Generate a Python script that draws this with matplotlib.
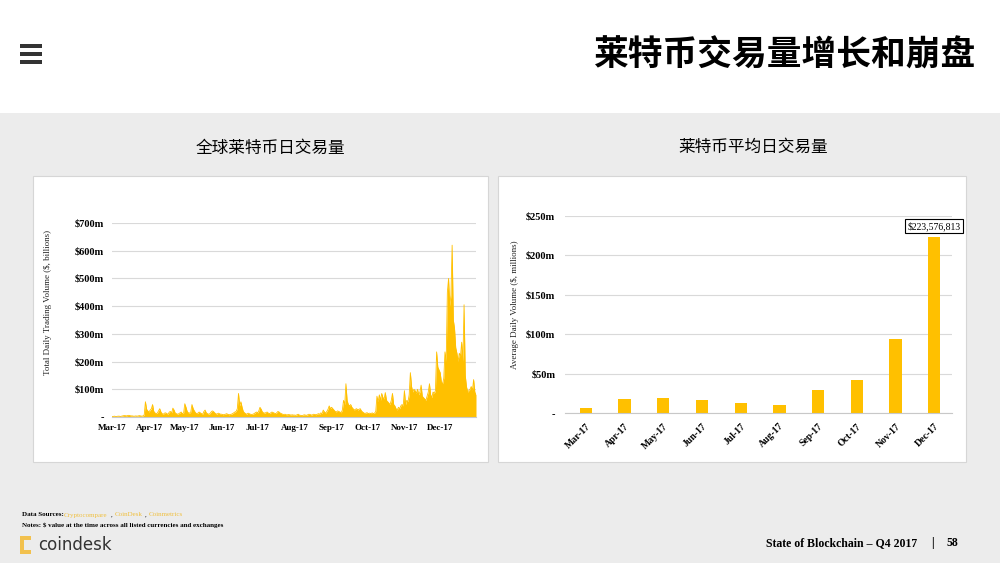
import matplotlib
matplotlib.use('Agg')
import matplotlib.pyplot as plt
import numpy as np
from matplotlib.patches import Rectangle

# ---------------- data ----------------
months = ['Mar-17', 'Apr-17', 'May-17', 'Jun-17', 'Jul-17',
          'Aug-17', 'Sep-17', 'Oct-17', 'Nov-17', 'Dec-17']
days_in_month = [31, 30, 31, 30, 31, 31, 30, 31, 30, 31]

# daily total trading volume, $ millions
mar = [2, 2, 3, 2, 2, 3, 3, 2, 3, 4, 5, 5, 4, 5, 6, 5, 4, 4, 3, 3, 4, 3, 4, 5, 4, 3, 4, 8, 55, 28, 22]
apr = [18, 25, 30, 45, 20, 15, 12, 14, 22, 30, 18, 12, 10, 14, 15, 12, 10, 18, 20, 15,
       32, 25, 14, 12, 10, 12, 15, 18, 12, 14]
may = [48, 35, 20, 15, 14, 18, 45, 30, 22, 15, 12, 14, 18, 15, 12, 10, 20, 25, 15, 12,
       10, 12, 18, 22, 20, 15, 12, 10, 14, 12, 10]
jun = [10, 8, 9, 10, 12, 10, 8, 9, 10, 12, 15, 18, 20, 30, 85, 40, 55, 35, 20, 15,
       12, 10, 14, 12, 10, 9, 10, 12, 15, 18]
jul = [15, 22, 35, 28, 18, 15, 14, 16, 18, 14, 12, 15, 18, 16, 14, 12, 15, 20, 18, 14,
       12, 10, 9, 10, 8, 8, 9, 8, 7, 8, 7]
aug = [7, 6, 8, 10, 7, 6, 5, 6, 8, 7, 6, 8, 10, 9, 7, 8, 10, 9, 8, 10,
       12, 10, 15, 12, 25, 18, 14, 20, 28, 40, 30]
sep = [35, 30, 25, 20, 18, 22, 20, 18, 15, 25, 60, 45, 120, 60, 45, 40, 45, 35, 30, 25,
       28, 30, 25, 28, 30, 22, 18, 15, 12, 15]
oct_ = [15, 12, 14, 12, 15, 12, 14, 20, 75, 55, 80, 60, 85, 70, 65, 88, 60, 55, 50, 45,
        60, 85, 45, 40, 30, 25, 35, 30, 40, 45, 40]
nov = [95, 45, 60, 55, 80, 160, 110, 90, 100, 95, 85, 100, 80, 90, 115, 75, 70, 65, 60, 75,
       90, 120, 80, 70, 90, 85, 95, 235, 180, 170]
dec = [160, 125, 120, 140, 235, 200, 450, 500, 400, 440, 620, 350, 320, 250, 230, 200, 230, 220, 270, 200,
       405, 150, 110, 90, 95, 100, 110, 95, 135, 90, 80]

daily_volume = mar + apr + may + jun + jul + aug + sep + oct_ + nov + dec

# average daily volume per month, $ millions
avg_daily = [6.2, 18.0, 19.0, 16.7, 13.0, 10.8, 30.0, 41.7, 93.5, 223.576813]

left_yticks = [0, 100, 200, 300, 400, 500, 600, 700]
left_ylabels = ['-', '$100m', '$200m', '$300m', '$400m', '$500m', '$600m', '$700m']
right_yticks = [0, 50, 100, 150, 200, 250]
right_ylabels = ['-', '$50m', '$100m', '$150m', '$200m', '$250m']

# ---------------- style ----------------
GOLD = '#FFC000'
GRID = '#d9d9d9'
SERIF = ['Liberation Serif', 'DejaVu Serif']
CJK = ['Noto Sans CJK SC', 'DejaVu Sans']

W, H = 1000, 563
fig = plt.figure(figsize=(10, 5.63), dpi=100)
fig.patch.set_facecolor('#ececec')


def fx(x):
    return x / W


def fy(y):
    return 1 - y / H


def rect_px(x0, y0, x1, y1, **kw):
    r = Rectangle((fx(x0), fy(y1)), (x1 - x0) / W, (y1 - y0) / H,
                  transform=fig.transFigure, **kw)
    fig.patches.append(r)
    return r


# top white band
rect_px(0, 0, 1000, 113, facecolor='white', edgecolor='none', zorder=0.1)
# hamburger icon
for y0 in (44, 52, 60):
    rect_px(20, y0, 42, y0 + 4, facecolor='#333333', edgecolor='none', zorder=0.2)

fig.text(0.976, fy(55), '莱特币交易量增长和崩盘', ha='right', va='center',
         fontsize=25, fontweight='bold', family=CJK, color='black')

# white chart panels
rect_px(33, 176, 488, 462, facecolor='white', edgecolor='#d6d6d6', lw=0.8, zorder=0.2)
rect_px(498, 176, 966, 462, facecolor='white', edgecolor='#d6d6d6', lw=0.8, zorder=0.2)

fig.text(fx(270), fy(148), '全球莱特币日交易量', ha='center', va='center',
         fontsize=12, family=CJK, color='black')
fig.text(fx(753), fy(147), '莱特币平均日交易量', ha='center', va='center',
         fontsize=12, family=CJK, color='black')

# ---------------- left chart ----------------
ax1 = fig.add_axes([fx(112), fy(417), (476 - 112) / W, (417 - 223) / H], zorder=1)
ax1.set_facecolor('none')
x = np.arange(len(daily_volume))
ax1.fill_between(x, daily_volume, 0, color=GOLD, lw=0)
ax1.plot(x, daily_volume, color=GOLD, lw=0.6)
ax1.set_xlim(0, len(daily_volume) - 1)
ax1.set_ylim(0, 700)
ax1.set_yticks(left_yticks)
ax1.set_yticklabels(left_ylabels, family=SERIF, fontweight='bold', fontsize=7.5)
month_starts = np.concatenate([[0], np.cumsum(days_in_month)[:-1]])
ax1.set_xticks(month_starts)
ax1.set_xticklabels(months, family=SERIF, fontweight='bold', fontsize=6.5)
ax1.tick_params(axis='both', length=0)
ax1.tick_params(axis='y', pad=6)
ax1.tick_params(axis='x', pad=5)
ax1.yaxis.grid(True, color=GRID, lw=0.8)
ax1.set_axisbelow(True)
for s in ('top', 'right', 'left'):
    ax1.spines[s].set_visible(False)
ax1.spines['bottom'].set_color('#c8c8c8')
ax1.spines['bottom'].set_linewidth(0.8)
fig.text(fx(48), fy(302), 'Total Daily Trading Volume ($, billions)', rotation=90,
         ha='center', va='center', family=SERIF, fontsize=6.5, color='#222222')

# ---------------- right chart ----------------
ax2 = fig.add_axes([fx(565), fy(413.3), (952 - 565) / W, (413.3 - 215.7) / H], zorder=1)
ax2.set_facecolor('none')
pos = np.arange(len(months))
ax2.bar(pos, avg_daily, width=0.32, color=GOLD, zorder=2)
ax2.set_xlim(-0.54, 9.46)
ax2.set_ylim(0, 250)
ax2.set_yticks(right_yticks)
ax2.set_yticklabels(right_ylabels, family=SERIF, fontweight='bold', fontsize=7.5)
ax2.set_xticks(pos)
ax2.set_xticklabels(months, family=SERIF, fontweight='bold', fontsize=7,
                    rotation=45, ha='right', va='top', rotation_mode='anchor')
ax2.tick_params(axis='both', length=0)
ax2.tick_params(axis='y', pad=7)
ax2.tick_params(axis='x', pad=6)
ax2.yaxis.grid(True, color=GRID, lw=0.8)
ax2.set_axisbelow(True)
for s in ('top', 'right', 'left'):
    ax2.spines[s].set_visible(False)
ax2.spines['bottom'].set_color('#c8c8c8')
ax2.spines['bottom'].set_linewidth(0.8)
ax2.annotate('${:,.0f}'.format(avg_daily[-1] * 1e6), xy=(9, 237), ha='center', va='center',
             family=SERIF, fontsize=7, color='black',
             bbox=dict(boxstyle='square,pad=0.25', fc='white', ec='black', lw=0.8))
fig.text(fx(515), fy(305), 'Average Daily Volume ($, millions)', rotation=90,
         ha='center', va='center', family=SERIF, fontsize=6.5, color='#222222')

# ---------------- footer ----------------
SRC = '#f0c040'
fig.text(fx(22), fy(515), 'Data Sources:', ha='left', va='center', family=SERIF,
         fontsize=5, fontweight='bold', color='black')
fig.text(fx(64), fy(515), 'Cryptocompare', ha='left', va='center', family=SERIF,
         fontsize=5, color=SRC)
fig.text(fx(111), fy(515), ',', ha='left', va='center', family=SERIF, fontsize=5, color='black')
fig.text(fx(115), fy(515), 'CoinDesk', ha='left', va='center', family=SERIF,
         fontsize=5, color=SRC)
fig.text(fx(145), fy(515), ',', ha='left', va='center', family=SERIF, fontsize=5, color='black')
fig.text(fx(149), fy(515), 'Coinmetrics', ha='left', va='center', family=SERIF,
         fontsize=5, color=SRC)
fig.text(fx(22), fy(525), 'Notes: $ value at the time across all listed currencies and exchanges',
         ha='left', va='center', family=SERIF, fontsize=5, fontweight='bold', color='black')

# coindesk logo
rect_px(20, 536, 24, 554, facecolor='#f2c14e', edgecolor='none', zorder=0.3)
rect_px(20, 536, 31, 540, facecolor='#f2c14e', edgecolor='none', zorder=0.3)
rect_px(20, 550, 31, 554, facecolor='#f2c14e', edgecolor='none', zorder=0.3)
fig.text(fx(38), fy(545), 'coindesk', ha='left', va='center', family=['DejaVu Sans'],
         fontsize=12, color='#333333')

fig.text(fx(917), fy(543), 'State of Blockchain – Q4 2017', ha='right', va='center',
         family=SERIF, fontsize=8.5, fontweight='bold', color='black')
fig.text(fx(932), fy(543), '|', ha='center', va='center', family=SERIF, fontsize=8.5,
         fontweight='bold', color='black')
fig.text(fx(952), fy(543), '58', ha='center', va='center', family=SERIF, fontsize=8.5,
         fontweight='bold', color='black')

fig.savefig('out.png', dpi=100, facecolor=fig.get_facecolor())
